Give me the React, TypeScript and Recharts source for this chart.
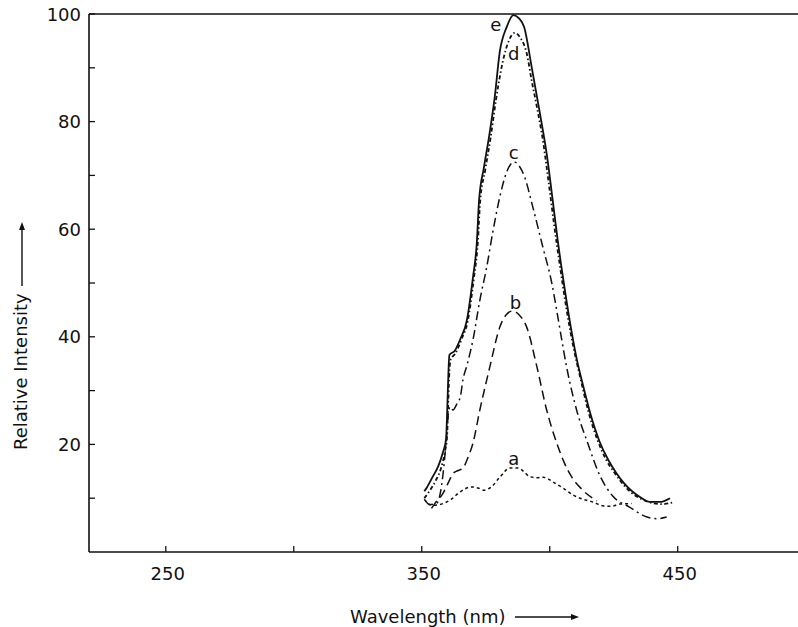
import React from 'react';
import { ComposedChart, Line, Scatter, XAxis, YAxis, ReferenceLine } from 'recharts';

const FONT = '"DejaVu Sans", sans-serif';
const INK = '#111';

const xTicks = [250, 300, 350, 400, 450];
const xTickLabels = [250, 350, 450];
const yTicks = [10, 20, 30, 40, 50, 60, 70, 80, 90, 100];
const yTickLabels = [20, 40, 60, 80, 100];

const curveA: [number, number][] = [
  [351, 9.8], [352.5, 9.0], [354.4, 8.7], [358.3, 9.0], [361.5, 9.8], [364.8, 11.1],
  [369.4, 12.1], [372, 11.9], [374.2, 11.5], [377.2, 12.1], [380.5, 13.9], [384.4, 15.6],
  [387.6, 15.6], [390, 14.9], [392.2, 14.0], [395, 13.8], [397.4, 13.9], [402, 12.8],
  [405.5, 11.8], [409.1, 10.6], [413, 9.8], [416.8, 9.3], [420.7, 8.6], [424, 8.5],
  [427.3, 8.9], [432, 9.0],
];

const curveB: [number, number][] = [
  [353.8, 8.1], [355.1, 9.0], [358.3, 10.9], [360.9, 13.4], [362.2, 14.6], [364, 15.1],
  [366.1, 15.6], [368, 17.5], [370, 20.2], [372.7, 26.4], [376.6, 34.4], [380.5, 41.8],
  [383, 44.1], [385.5, 44.8], [388, 44.1], [391, 41.8], [395, 34.4], [398.8, 26.4],
  [402.7, 20.3], [405.5, 16.8], [408.5, 14], [412.9, 11.5], [418.4, 9.5],
];

const curveC: [number, number][] = [
  [351.5, 9.5], [353, 8.8], [355.9, 9.1], [357.8, 12.5], [359.6, 20.8], [360.6, 26.5],
  [361.2, 27], [362.2, 26.4], [363.8, 27.6], [365.1, 28.9], [366.1, 32], [367.6, 34.6],
  [370, 39.4], [372.7, 46.8], [375.4, 53], [377.7, 59.3], [380.5, 66], [383, 70.4],
  [386, 72.5], [388, 71.8], [390.2, 69.7], [393.4, 64.1], [397.3, 56.7], [400.8, 50],
  [402.7, 45], [404.5, 40], [406.6, 34.4], [410.5, 26.4], [414.8, 20.3], [419.5, 14.3],
  [424.6, 10.4], [431, 8.4], [438, 6.5], [442, 6.2], [445.7, 6.5],
];

const curveD: [number, number][] = [
  [351, 10.0], [353, 11.3], [355.5, 13.3], [357.5, 15.5], [359, 18.5], [359.9, 21.5],
  [360.3, 27], [360.7, 32.5], [361.3, 35.8], [363, 36.8], [365.5, 39.5], [368, 43],
  [370.4, 51], [371.9, 57.4], [372.8, 65], [374.8, 71], [376.9, 77], [379, 84],
  [381.6, 91], [384, 95], [386.3, 96.5], [388.5, 95.6], [391, 92.7], [393, 87.5],
  [395, 82.7], [397.3, 76.6], [399.5, 69], [401.8, 60.5], [404.2, 52.5], [406.6, 45],
  [409.2, 38.2], [412, 32.3], [415, 26.3], [418.5, 21], [422, 17.2], [425.5, 14.6],
  [429, 12.4], [432.5, 10.8], [436, 9.8], [440, 9.1], [444, 8.9], [448, 9.2],
];

const curveE: [number, number][] = [
  [351, 11.3], [352, 12.0], [354.3, 14.0], [356.5, 16.0], [358.2, 18.4], [359.5, 21.0],
  [360, 27], [360.4, 33], [360.8, 36.6], [362.9, 37.4], [365, 39.5], [367.6, 43],
  [370, 51], [371.5, 57.4], [372.4, 65.4], [374.3, 71.5], [376.4, 77.5], [378.5, 84.5],
  [380.5, 93.0], [383.2, 97.6], [385.8, 99.8], [388, 99.2], [390, 97.6], [393, 90],
  [396, 82], [399, 73.4], [401, 66], [403.1, 58], [405.5, 50], [407.8, 43],
  [410.5, 36], [413, 31], [416, 25.5], [419.5, 20.5], [423, 17], [426, 14.7],
  [429, 12.8], [432.4, 11.2], [436, 10], [439, 9.3], [443, 9.3], [447, 10],
];

const curveNames = ['a', 'b', 'c', 'd', 'e'];
const labelX = [386, 386.6, 385.9, 385.9, 378.9];
const labelY = [17.3, 46.3, 74.2, 92.7, 98.0];

const toPts = (arr: [number, number][]) => arr.map(([x, y]) => ({ x, y }));
const curveLabels = curveNames.map((n, i) => ({ name: n, x: labelX[i], y: labelY[i] }));

const XTick = (props: any) => {
  const { x, y, payload } = props;
  const v = payload.value;
  return (
    <g>
      <line x1={x} x2={x} y1={y} y2={y - 6} stroke={INK} strokeWidth={1.3} />
      {xTickLabels.includes(v) && (
        <text x={x + 2} y={y + 28} textAnchor="middle" fontFamily={FONT} fontSize={18} fill={INK}>
          {v}
        </text>
      )}
    </g>
  );
};

const YTick = (props: any) => {
  const { x, y, payload } = props;
  const v = payload.value;
  return (
    <g>
      <line x1={x} x2={x + 6} y1={y} y2={y} stroke={INK} strokeWidth={1.3} />
      {yTickLabels.includes(v) && (
        <text x={x - 8} y={y + 6.5} textAnchor="end" fontFamily={FONT} fontSize={18} fill={INK}>
          {v}
        </text>
      )}
    </g>
  );
};

const XTitle = (props: any) => {
  const vb = props.viewBox || { x: 89, y: 552 };
  const tx = vb.x + 261;
  const ty = vb.y + 71;
  const ay = vb.y + 65;
  return (
    <g>
      <text x={tx} y={ty} fontFamily={FONT} fontSize={18} fill={INK}>Wavelength (nm)</text>
      <line x1={tx + 165} x2={tx + 223} y1={ay} y2={ay} stroke={INK} strokeWidth={1.4} />
      <polygon points={`${tx + 229},${ay} ${tx + 221},${ay - 3} ${tx + 221},${ay + 3}`} fill={INK} />
    </g>
  );
};

const YTitle = (props: any) => {
  const vb = props.viewBox || { x: 29, y: 14 };
  const bx = vb.x - 2;
  const by = vb.y + 436;
  const ax = bx - 5;
  return (
    <g>
      <text x={bx} y={by} transform={`rotate(-90 ${bx} ${by})`} fontFamily={FONT} fontSize={18} fill={INK}>
        Relative Intensity
      </text>
      <line x1={ax} x2={ax} y1={vb.y + 272} y2={vb.y + 214} stroke={INK} strokeWidth={1.4} />
      <polygon points={`${ax},${vb.y + 208} ${ax - 3},${vb.y + 216} ${ax + 3},${vb.y + 216}`} fill={INK} />
    </g>
  );
};

const LetterShape = (props: any) => {
  const { cx, cy, payload } = props;
  return (
    <text x={cx} y={cy} dy="0.35em" textAnchor="middle" fontFamily={FONT} fontSize={18} fill={INK}>
      {payload.name}
    </text>
  );
};

export default function App() {
  return (
    <div style={{ position: 'absolute', left: 0, top: 0, background: '#fff' }}>
      <ComposedChart
        width={798}
        height={627}
        margin={{ top: 14, right: 0, bottom: 35, left: 29 }}
        style={{ background: '#fff' }}
      >
        <XAxis
          type="number"
          dataKey="x"
          domain={[220, 497]}
          ticks={xTicks}
          interval={0}
          allowDataOverflow
          height={40}
          tickSize={0}
          tickMargin={0}
          tickLine={false}
          tick={<XTick />}
          axisLine={{ stroke: INK, strokeWidth: 1.6 }}
          label={{ content: <XTitle /> }}
        />
        <YAxis
          type="number"
          domain={[0, 100]}
          ticks={yTicks}
          interval={0}
          allowDataOverflow
          width={60}
          tickSize={0}
          tickMargin={0}
          tickLine={false}
          tick={<YTick />}
          axisLine={{ stroke: INK, strokeWidth: 1.6 }}
          label={{ content: <YTitle /> }}
        />
        <ReferenceLine y={100} stroke={INK} strokeWidth={1.6} ifOverflow="extendDomain" />
        <Line data={toPts(curveA)} dataKey="y" type="monotone" stroke={INK} strokeWidth={1.5}
          strokeDasharray="3 3" dot={false} activeDot={false} isAnimationActive={false} />
        <Line data={toPts(curveB)} dataKey="y" type="monotone" stroke={INK} strokeWidth={1.5}
          strokeDasharray="9 5" dot={false} activeDot={false} isAnimationActive={false} />
        <Line data={toPts(curveC)} dataKey="y" type="monotone" stroke={INK} strokeWidth={1.5}
          strokeDasharray="9 4 2 4" dot={false} activeDot={false} isAnimationActive={false} />
        <Line data={toPts(curveD)} dataKey="y" type="monotone" stroke={INK} strokeWidth={1.8}
          strokeDasharray="4 2.5 1.5 2.5" dot={false} activeDot={false} isAnimationActive={false} />
        <Line data={toPts(curveE)} dataKey="y" type="monotone" stroke={INK} strokeWidth={1.8}
          dot={false} activeDot={false} isAnimationActive={false} />
        <Scatter data={curveLabels} dataKey="y" shape={<LetterShape />} isAnimationActive={false} />
      </ComposedChart>
    </div>
  );
}
